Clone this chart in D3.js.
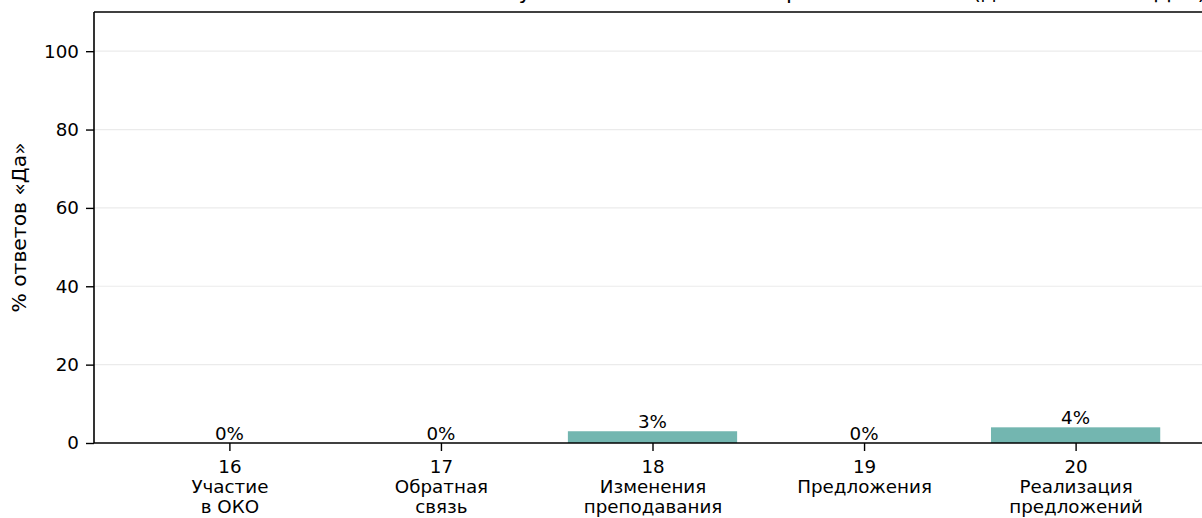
<!DOCTYPE html>
<html>
<head>
<meta charset="utf-8">
<script src="https://cdn.jsdelivr.net/npm/d3@7"></script>
<style>
  html, body { margin: 0; padding: 0; background: #fff; }
  svg { display: block; font-family: "DejaVu Sans", sans-serif; }
</style>
</head>
<body>
<svg id="chart" width="1202" height="518"></svg>
<script>
const questionNumbers = ["16", "17", "18", "19", "20"];
const questionLabels = [
  ["Участие", "в ОКО"],
  ["Обратная", "связь"],
  ["Изменения", "преподавания"],
  ["Предложения"],
  ["Реализация", "предложений"]
];
const yesPercent = [0, 0, 3, 0, 4];
const yTicks = [0, 20, 40, 60, 80, 100];
const titleText = "Вовлечение в ОКО и использование учителями её итогов в работе в школе (доля ответов «Да»)";
const yLabel = "% ответов «Да»";

(function () {
const svg = d3.select("#chart");
const mLeft = 94, mRight = 1211, mTop = 12, mBottom = 443;
const barColor = "#73b6b0";
const tickFont = 18.3;

const x = d3.scaleLinear().domain([-0.64, 4.64]).range([mLeft, mRight]);
const y = d3.scaleLinear().domain([0, 110]).range([mBottom, mTop]);

// grid
svg.append("g").selectAll("line").data(yTicks.filter(d => d > 0)).join("line")
  .attr("x1", mLeft).attr("x2", mRight)
  .attr("y1", d => y(d)).attr("y2", d => y(d))
  .attr("stroke", "#ebebeb").attr("stroke-width", 1.2);

// bars
const data = yesPercent.map((v, i) => ({i, v}));
svg.append("g").selectAll("rect").data(data).join("rect")
  .attr("x", d => x(d.i - 0.4))
  .attr("width", d => x(d.i + 0.4) - x(d.i - 0.4))
  .attr("y", d => y(d.v))
  .attr("height", d => y(0) - y(d.v))
  .attr("fill", barColor);

// bar labels
svg.append("g").selectAll("text").data(data).join("text")
  .attr("x", d => x(d.i))
  .attr("y", d => y(d.v) - 3)
  .attr("text-anchor", "middle")
  .attr("font-size", tickFont)
  .attr("fill", "#000")
  .text(d => d.v + "%");

// y axis
const yAxis = d3.axisLeft(y).tickValues(yTicks).tickSize(8).tickPadding(7).tickFormat(d3.format("d"));
const gy = svg.append("g").attr("transform", `translate(${mLeft},0)`).call(yAxis);
gy.select(".domain").remove();
gy.selectAll(".tick line").attr("stroke", "#000").attr("stroke-width", 1.4);
gy.selectAll(".tick text").attr("font-size", tickFont).attr("font-family", "DejaVu Sans").attr("fill", "#000");

// x axis
const xAxis = d3.axisBottom(x).tickValues(d3.range(questionNumbers.length)).tickSize(8).tickFormat(() => "");
const gx = svg.append("g").attr("transform", `translate(0,${mBottom})`).call(xAxis);
gx.select(".domain").remove();
gx.selectAll(".tick line").attr("stroke", "#000").attr("stroke-width", 1.4);
gx.selectAll(".tick").each(function(d) {
  const lines = [questionNumbers[d]].concat(questionLabels[d]);
  const t = d3.select(this).append("text")
    .attr("text-anchor", "middle")
    .attr("font-size", tickFont)
    .attr("font-family", "DejaVu Sans")
    .attr("fill", "#000");
  lines.forEach((s, k) => {
    t.append("tspan").attr("x", 0).attr("y", 29.5 + k * 20.3).text(s);
  });
});

// spines
const spine = (x1, y1, x2, y2) => svg.append("line")
  .attr("x1", x1).attr("y1", y1).attr("x2", x2).attr("y2", y2)
  .attr("stroke", "#000").attr("stroke-width", 1.6);
spine(mLeft, mTop, mLeft, mBottom);
spine(mLeft, mTop, mRight, mTop);
spine(mLeft, mBottom, mRight, mBottom);
spine(mRight, mTop, mRight, mBottom);

// y label
svg.append("text")
  .attr("transform", `translate(26,${(mTop + mBottom) / 2}) rotate(-90)`)
  .attr("text-anchor", "middle")
  .attr("font-size", 20.3)
  .attr("fill", "#000")
  .text(yLabel);

// title (mostly cut off at the top, as in the reference)
svg.append("text")
  .attr("x", (mLeft + mRight) / 2)
  .attr("y", -1)
  .attr("text-anchor", "middle")
  .attr("font-size", 21.7)
  .attr("fill", "#000")
  .text(titleText);
})();
</script>
</body>
</html>
